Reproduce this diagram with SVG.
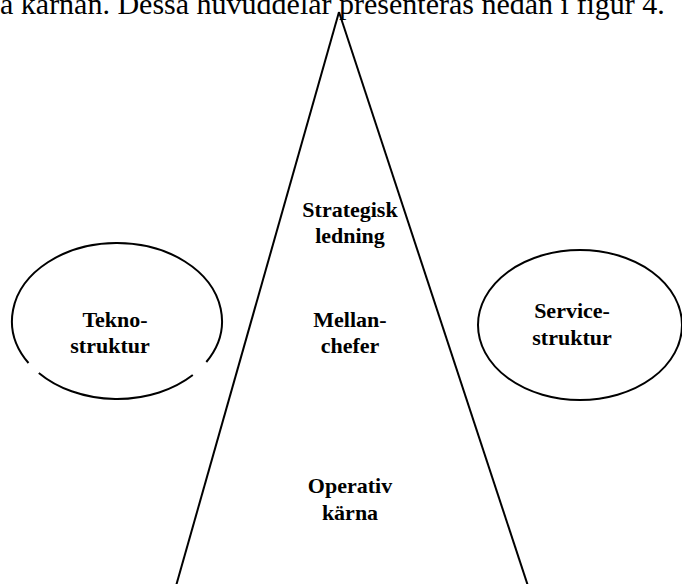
<svg xmlns="http://www.w3.org/2000/svg" width="682" height="584" viewBox="0 0 682 584">
  <style>
    .body { font-family: "Liberation Serif", "Times New Roman", serif; font-size: 30px; fill: #000; }
    .lbl { font-family: "Liberation Serif", "Times New Roman", serif; font-size: 22px; font-weight: bold; fill: #000; text-anchor: middle; }
    .ln { fill: none; stroke: #000; stroke-width: 2; }
  </style>
  <rect width="682" height="584" fill="#fff"/>
  <!-- running text above the figure, cut off at the top edge -->
  <text class="body" x="0" y="14">a kärnan. Dessa huvuddelar presenteras nedan i figur 4.</text>

  <!-- pyramid sides -->
  <g id="connectors">
    <line class="ln" x1="339" y1="12" x2="176" y2="586"/>
    <line class="ln" x1="339" y1="12" x2="528" y2="586"/>
  </g>

  <g id="strategisk-ledning">
    <text class="lbl" x="350" y="217">Strategisk</text>
    <text class="lbl" x="350" y="243">ledning</text>
  </g>

  <g id="mellanchefer">
    <text class="lbl" x="350" y="327">Mellan-</text>
    <text class="lbl" x="350" y="353">chefer</text>
  </g>

  <g id="operativ-karna">
    <text class="lbl" x="350" y="493">Operativ</text>
    <text class="lbl" x="350" y="520">kärna</text>
  </g>

  <g id="teknostruktur">
    <path class="ln" d="M 38.8,373 A 105 78 0 0 0 192.8,375 M 206.3,362 A 105 78 0 1 0 28.5,363"/>
    <text class="lbl" x="115" y="327">Tekno-</text>
    <text class="lbl" x="110" y="353">struktur</text>
  </g>

  <g id="servicestruktur">
    <ellipse class="ln" cx="580" cy="325" rx="102" ry="75"/>
    <text class="lbl" x="572" y="318">Service-</text>
    <text class="lbl" x="572" y="345">struktur</text>
  </g>
</svg>
